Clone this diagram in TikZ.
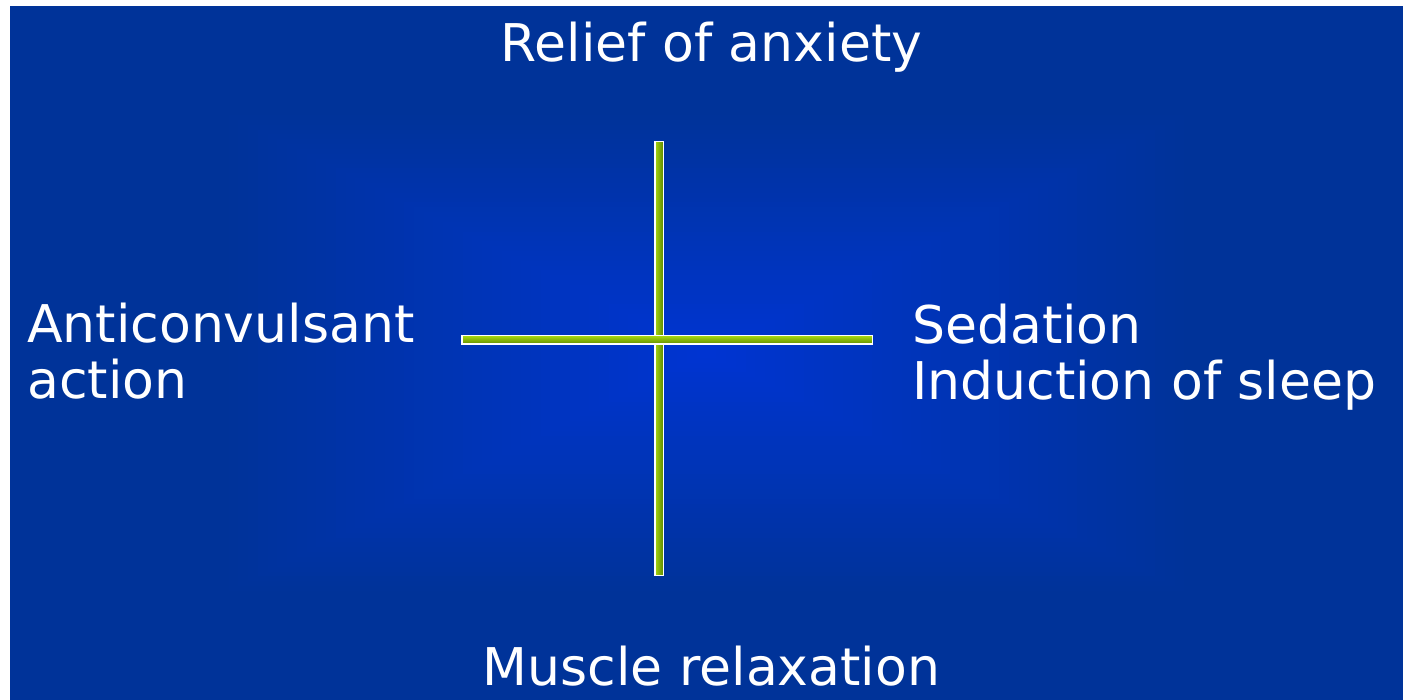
\documentclass[tikz,border=0pt]{standalone}
\usepackage{fontspec}
\setmainfont{DejaVu Sans}
\usetikzlibrary{positioning}
\definecolor{glowcentre}{HTML}{0034D2}
\definecolor{glowedge}{HTML}{003399}
\definecolor{barlight}{HTML}{A8D810}
\definecolor{bardark}{HTML}{5F8A00}

\begin{document}
\begin{tikzpicture}[
  x=1pt,y=-1pt,
  cue/.style={text=white,inner sep=0pt,font=\fontsize{52}{56}\selectfont},
  vbar/.style={draw=white,line width=1.5pt,inner sep=0pt,
               minimum width=8.5pt,minimum height=433.5pt,
               left color=barlight,right color=bardark},
  hbar/.style={draw=white,line width=1.5pt,inner sep=0pt,
               minimum width=410.5pt,minimum height=8.5pt,
               top color=barlight,bottom color=bardark}
]
\useasboundingbox (0,0) rectangle (1403,700);
\fill[white] (0,0) rectangle (1403,700);
\fill[glowedge] (10,6) rectangle (1403,700);
% rectangular glow towards the middle
\foreach \k in {0,...,50}{
  \pgfmathsetmacro\s{0.7*(1-\k/50)}
  \pgfmathtruncatemacro\p{2*\k}
  \fill[glowcentre!\p!glowedge] (706.5-696.5*\s,353-347*\s)
    rectangle (706.5+696.5*\s,353+347*\s);
}
% the cross
\node[vbar] (spine) at (659,358.5) {};
\node[hbar] (crossbar) at (667,340) {};
% the four effects
\node[cue,anchor=base] (anxiety) at (711.5,62) {Relief of anxiety};
\node[cue,anchor=base] (muscle) at (711.5,685) {Muscle relaxation};
\node[cue,anchor=base west,align=left] (convulsant) at (27,399)
  {Anticonvulsant\\action};
\node[cue,anchor=base west,align=left] (sedation) at (912,400)
  {Sedation\\Induction of sleep};
\end{tikzpicture}
\end{document}
